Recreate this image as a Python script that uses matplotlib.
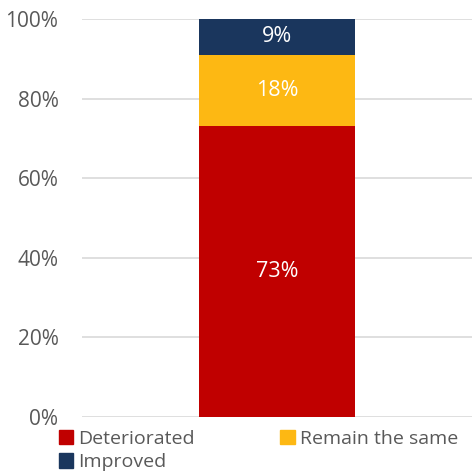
import matplotlib.pyplot as plt
from matplotlib.patches import Patch

plt.rcParams['font.family'] = ['Open Sans', 'DejaVu Sans']

# data
categories = [""]
series = ["Deteriorated", "Remain the same", "Improved"]
values = [73, 18, 9]
colors = ["#C00000", "#FDB813", "#1A365D"]

fig = plt.figure(figsize=(4.72, 4.73), dpi=100)
ax = fig.add_axes([82/472, 1 - 417/473, 390/472, (417 - 19)/473])

bottom = 0
for name, v, c in zip(series, values, colors):
    ax.bar(0, v, width=0.4, bottom=bottom, color=c, zorder=3)
    ax.text(0, bottom + v / 2, f"{v}%", ha="center", va="center",
            color="white", fontsize=15.5, zorder=4)
    bottom += v

ax.set_xlim(-0.5, 0.5)
ax.set_ylim(0, 100)
ax.set_yticks(range(0, 101, 20))
ax.set_yticklabels([f"{t}%" for t in range(0, 101, 20)], fontsize=15, color="#595959")
ax.set_xticks([])
ax.tick_params(axis="y", length=0, pad=17)
ax.grid(axis="y", color="#D9D9D9", linewidth=1.2, zorder=0)
for s in ax.spines.values():
    s.set_visible(False)

# legend filled row by row: Deteriorated, Remain the same / Improved
handles = [Patch(color=colors[i], label=series[i]) for i in (0, 2, 1)]
fig.legend(handles=handles, loc="upper left", bbox_to_anchor=(49/472, 1 - 420/473),
           ncol=2, frameon=False, fontsize=14, labelcolor="#595959",
           handlelength=0.75, handleheight=0.75, handletextpad=0.25,
           columnspacing=4.4, labelspacing=0.28, borderpad=0)

fig.savefig("out.png", dpi=100)
